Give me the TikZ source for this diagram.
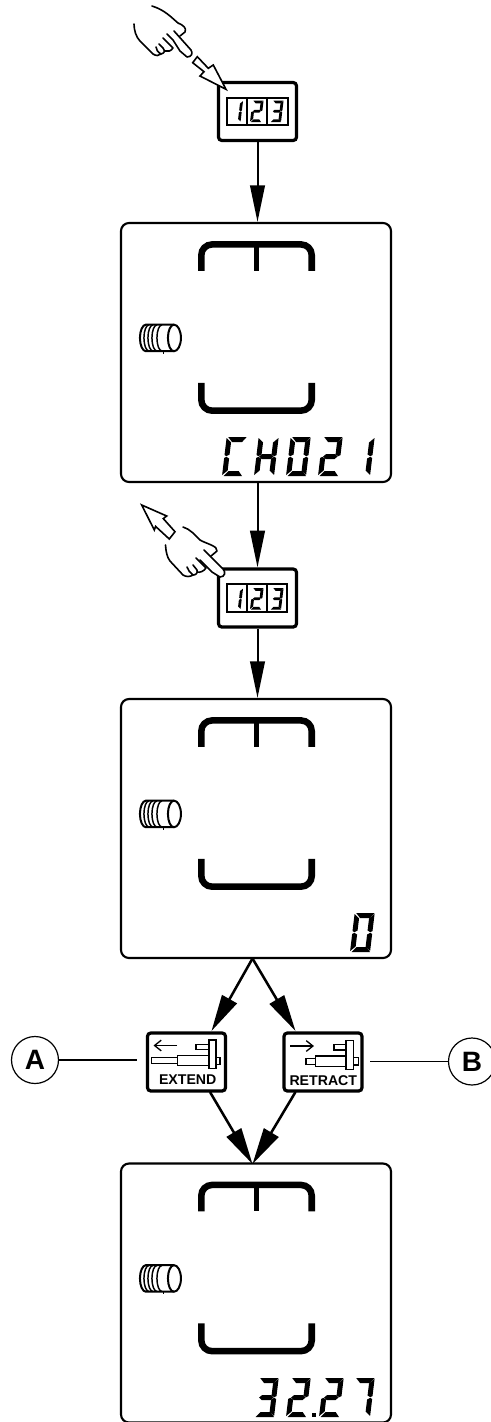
\documentclass[tikz,border=0pt]{standalone}
\usepackage{fontspec}
\setmainfont{Liberation Sans}
\usetikzlibrary{arrows.meta,calc}
\tikzset{
  panel/.style={draw,line width=1.6pt,rounded corners=6pt,minimum width=202.5pt,minimum height=194.25pt,inner sep=0pt},
  keybox/.style={draw,line width=2.4pt,rounded corners=2.5pt,inner sep=0pt},
  flow/.style={line width=1.5pt,-{Triangle[length=27.5pt,width=11pt]}},
  flowdiag/.style={line width=1.9pt,-{Triangle[length=27.5pt,width=12.5pt]}},
  lead/.style={line width=.9pt},
  bracket/.style={line width=4.9pt,rounded corners=8pt},
  tee/.style={line width=3.6pt},
  handline/.style={line width=1.2pt,line cap=round,line join=round},
  blockarrow/.style={draw,line width=1.2pt,fill=white,line join=miter},
  iconpart/.style={draw,line width=1pt,fill=white},
  iconarrow/.style={line width=1pt,-{Straight Barb[length=5pt,width=8pt]}},
  tag/.style={circle,draw,line width=.9pt,minimum size=35.25pt,inner sep=0pt,font=\bfseries\fontsize{21}{21}\selectfont},
  keylabel/.style={inner sep=0pt,font=\bfseries\fontsize{10.6}{11}\selectfont},
}
\newcommand{\segA}{(1.5,-39) -- (20,-39) -- (16,-34) -- (6,-34) -- cycle}
\newcommand{\segB}{(20,-38) -- (20,-21) -- (18,-19.8) -- (15,-21.5) -- (15,-33.5) -- cycle}
\newcommand{\segC}{(20,-18) -- (20,-1) -- (15,-5.5) -- (15,-17.5) -- (18,-19.2) -- cycle}
\newcommand{\segD}{(1.5,0) -- (20,0) -- (16,-5) -- (6,-5) -- cycle}
\newcommand{\segE}{(0,-18) -- (0,-1) -- (5,-5.5) -- (5,-17.5) -- (2,-19.2) -- cycle}
\newcommand{\segF}{(0,-38) -- (0,-21) -- (2,-19.8) -- (5,-21.5) -- (5,-33.5) -- cycle}
\newcommand{\segG}{(2.8,-19.5) -- (5.5,-22) -- (14.5,-22) -- (17.2,-19.5) -- (14.5,-17) -- (5.5,-17) -- cycle}
\newcommand{\sevenseg}[3]{%
  \begin{scope}[cm={1,0,0.12,1,(#1,#2)}]
    \foreach \s in {#3} {\fill \csname seg\s\endcsname;}
  \end{scope}}
\newcommand{\minidigit}[3]{%
  \begin{scope}[cm={0.55,0,0.066,0.55,(#1,#2)}]
    \foreach \s in {#3} {\fill \csname seg\s\endcsname;}
  \end{scope}}
\newcommand{\screen}[1]{%
  \draw[bracket] ($(#1.north west)+(81.4,49)$) -- ++(0,-26.5) -- ++(110.4,0) -- ++(0,26.5);
  \draw[tee] ($(#1.north west)+(136.5,22.5)$) -- ++(0,26.5);
  \draw[bracket] ($(#1.north west)+(81.4,161)$) -- ++(0,27.7) -- ++(110.4,0) -- ++(0,-27.7);
  \begin{scope}[shift={($(#1.north west)+(0,116)$)},line width=1.5pt]
    \draw (26,-13.3) -- (54,-13.3) arc[start angle=270,end angle=450,x radius=7,y radius=13.3]
          -- (26,13.3) arc[start angle=90,end angle=270,x radius=6,y radius=13.3];
    \draw (54,-13.3) arc[start angle=270,end angle=90,x radius=6,y radius=13.3];
    \foreach \c in {29,33,37,42} \draw[line width=1.1pt] (\c,-13) arc[start angle=270,end angle=90,x radius=5,y radius=13];
    \draw[line width=.7pt] (44,13.3) -- (44,16);
  \end{scope}}
\newcommand{\keydisplay}[6]{%
  \draw[line width=.9pt] (#1,#5) rectangle (#4,#6) (#2,#5) -- (#2,#6) (#3,#5) -- (#3,#6);}
\begin{document}
\begin{tikzpicture}[x=0.75pt,y=-0.75pt]
\useasboundingbox (0,0) rectangle (490,1422);

% panels
\node[panel] (p1) at (256,352.5) {};
\node[panel] (p2) at (256,828.5) {};
\node[panel] (p3) at (256,1293) {};
\screen{p1}\screen{p2}\screen{p3}

% keys
\node[keybox,minimum width=58.5pt,minimum height=43.5pt] (k1) at (257.5,111.5) {};
\node[keybox,minimum width=58.5pt,minimum height=43.5pt] (k2) at (257.5,598) {};
\node[keybox,minimum width=58.5pt,minimum height=43.5pt] (ke) at (186.5,1062) {};
\node[keybox,minimum width=58.5pt,minimum height=43.5pt] (kr) at (323,1062) {};

% key displays
\keydisplay{227}{247}{267}{288}{98}{125}
\keydisplay{227}{247}{267}{287}{584}{612}
\minidigit{229.5}{122}{B,C}
\minidigit{250}{122}{A,B,G,E,D}
\minidigit{270}{122}{A,B,G,C,D}
\minidigit{229.5}{609.5}{B,C}
\minidigit{250}{609.5}{A,B,G,E,D}
\minidigit{270}{609.5}{A,B,G,C,D}

% panel read-outs
\sevenseg{222}{476}{A,F,E,D}
\sevenseg{254}{476}{F,E,B,C,G}
\sevenseg{286}{476}{A,B,C,D,E,F}
\sevenseg{318}{476}{A,B,G,E,D}
\sevenseg{350}{476}{B,C}
\sevenseg{350}{952}{A,B,C,D,E,F}
\sevenseg{254}{1417}{A,B,G,C,D}
\sevenseg{286}{1417}{A,B,G,E,D}
\fill (312,1413) rectangle (316,1417);
\sevenseg{319}{1417}{A,B,G,E,D}
\sevenseg{350}{1417}{A,B,C}

% flow connectors
\draw[flow] (k1.south) -- (k1.south |- p1.north);
\draw[flow] (k2.north |- p1.south) -- (k2.north);
\draw[flow] (k2.south) -- (k2.south |- p2.north);
\coordinate (split) at (252.5,958.5);
\coordinate (merge) at (252.5,1164);
\coordinate (keo) at (211.5,1031);
\coordinate (kri) at (295.5,1031);
\coordinate (kei) at (210,1092);
\coordinate (kro) at (295.5,1092);
\draw[flowdiag] (split) -- (keo);
\draw[flowdiag] (split) -- (kri);
\draw[flowdiag] (kei) -- (merge);
\draw[flowdiag] (kro) -- (merge);

% tags
\node[tag] (A) at (35,1060) {A};
\node[tag] (B) at (472,1061.5) {B};
\coordinate (leadA) at (137,1060);
\coordinate (leadB) at (370,1061.5);
\draw[lead] (A) -- (leadA);
\draw[lead] (B) -- (leadB);

% extend icon
\draw[iconarrow] (177,1045.5) -- (153.5,1045.5);
\draw[iconpart] (151.7,1057.7) rectangle (177.7,1063.3);
\draw[iconpart] (177.7,1055.3) rectangle (209,1065.7);
\draw[iconpart] (196,1044.3) rectangle (209,1049.3);
\draw[iconpart] (216,1057.7) rectangle (220,1064.3);
\draw[iconpart] (209,1040) rectangle (216,1068.3);
\node[keylabel] (te) at (187.7,1079.5) {EXTEND};

% retract icon
\draw[iconarrow] (290,1046) -- (314,1046);
\draw[iconpart] (306,1058.3) rectangle (315.3,1064.7);
\draw[iconpart] (315.3,1056) rectangle (346,1066.7);
\draw[iconpart] (334,1044.7) rectangle (346,1050);
\draw[iconpart] (353.3,1057.7) rectangle (358.3,1065);
\draw[iconpart] (346,1040.7) rectangle (353.3,1069.3);
\node[keylabel] (tr) at (323.3,1081) {RETRACT};

% hand pressing, with arrow going in
\draw[handline] (152,6) .. controls (165,10) and (172,18) .. (178,23) .. controls (183,25) and (187,28) .. (185,32) -- (180,36);
\draw[handline] (174,31) -- (191,50) .. controls (193,53) and (192,57) .. (187,57) -- (180,51) -- (173,40) -- (167,34);
\draw[handline] (134,24) .. controls (134,30) and (136,37) .. (140,41) -- (153,54) .. controls (156,56) and (159,56) .. (161,54) .. controls (158,52) and (156,50) .. (156,47);
\draw[handline] (161,54) .. controls (165,53) and (165,51) .. (163,48) -- (159,44);
\draw[handline] (165,51) .. controls (168,52) and (171,51) .. (173,48) -- (163,38);
\path[blockarrow] (197.3,56.7) -- (208.3,68.3) -- (213.3,65) -- (226,89.3) -- (200,76) -- (204,71.7) -- (192.7,62.7) -- cycle;

% hand lifting, with arrow going out
\draw[handline] (183,527) .. controls (190,529) and (195,535) .. (200,540) .. controls (207,544) and (218,546) .. (217,551) -- (211,556);
\draw[handline,fill=white] (204,550) -- (223,569) .. controls (226,572) and (225,577) .. (220,577) -- (212,572) -- (200,560);
\draw[handline] (165.5,545) .. controls (166,552) and (167,557) .. (170,561) -- (183,575) .. controls (186,577) and (190,577) .. (193,575) .. controls (190,573) and (188,570) .. (187,567);
\draw[handline] (193,575) .. controls (196,575) and (198,573) .. (197,570) -- (193,565);
\draw[handline] (197,572) .. controls (200,573) and (204,571) .. (206,568) -- (196,558);
\path[blockarrow] (141.7,505) -- (166.7,516) -- (163.3,518.6) -- (175,531.7) -- (169.3,539) -- (155.6,526.4) -- (154.3,530) -- cycle;
\end{tikzpicture}
\end{document}
